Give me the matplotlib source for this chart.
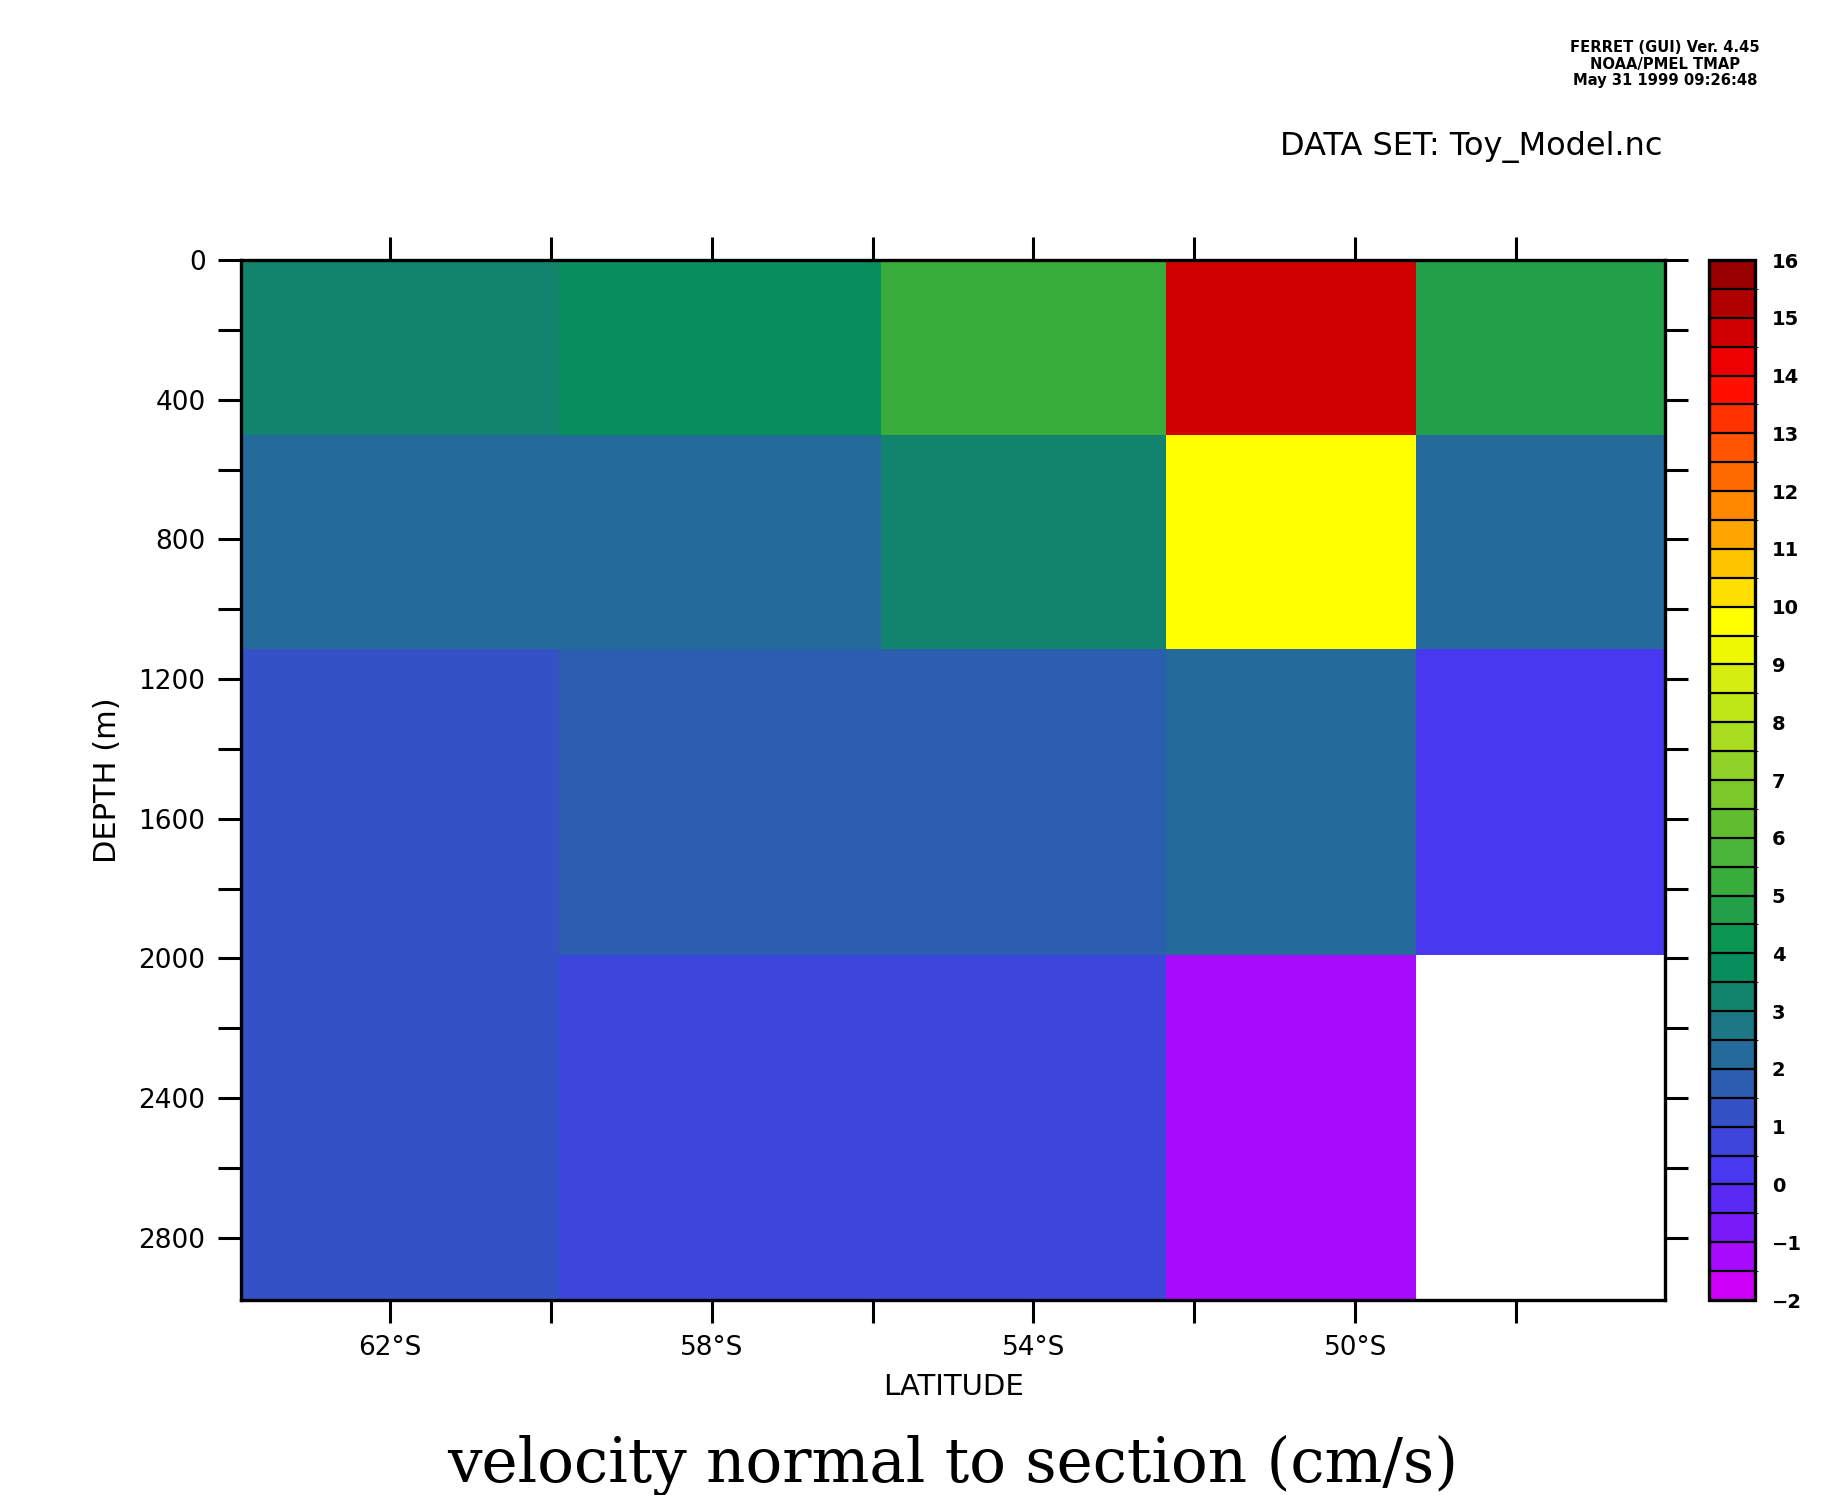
import numpy as np
import matplotlib
matplotlib.use("Agg")
import matplotlib.pyplot as plt
from matplotlib.colors import ListedColormap, BoundaryNorm
from matplotlib.ticker import FixedLocator, FuncFormatter

# cell edges of the section grid
lat_edges = [-63.85, -59.9, -55.9, -52.35, -49.25, -46.15]
depth_edges = [0, 500, 1115, 1990, 2978]

# velocity normal to section (cm/s), rows = depth layers, cols = latitude bins
velocity = np.array([
    [3.2, 3.8, 5.2, 14.7, 4.7],
    [2.2, 2.2, 3.2, 9.7, 2.2],
    [1.2, 1.7, 1.7, 2.2, 0.2],
    [1.2, 0.7, 0.7, -1.3, np.nan],
])

levels = np.arange(-2, 16.01, 0.5)
level_colors = [
    '#cc00f8', '#a80cff', '#7a1af8', '#5a2af5', '#4838f0', '#3e45da',
    '#3452c6', '#2b5eae', '#246a9a', '#1c7884', '#12846e', '#088e5c',
    '#0a9650', '#22a048', '#38ad3c', '#4bb53a', '#60bd30', '#7ac82a',
    '#90d228', '#a8dd20', '#c0e818', '#d5ed10', '#eef800', '#ffff00',
    '#ffe000', '#ffc400', '#ffa500', '#ff8800', '#ff6a00', '#ff5500',
    '#ff3300', '#ff1000', '#ee0000', '#d00000', '#b00000', '#990000',
]
cmap = ListedColormap(level_colors)
norm = BoundaryNorm(levels, cmap.N)

W, H = 1838, 1495
fig = plt.figure(figsize=(W / 100, H / 100), dpi=100, facecolor='white')
ax = fig.add_axes([241 / W, 1 - 1300 / H, (1665 - 241) / W, (1300 - 260) / H])

mesh = ax.pcolormesh(lat_edges, depth_edges, np.ma.masked_invalid(velocity),
                     cmap=cmap, norm=norm, shading='flat')
ax.set_xlim(lat_edges[0], lat_edges[-1])
ax.set_ylim(depth_edges[-1], 0)

ax.xaxis.set_major_locator(FixedLocator([-62, -58, -54, -50]))
ax.xaxis.set_minor_locator(FixedLocator([-60, -56, -52, -48]))
ax.xaxis.set_major_formatter(FuncFormatter(lambda v, p: f"{abs(v):.0f}°S"))
ax.yaxis.set_major_locator(FixedLocator(np.arange(0, 2801, 400)))
ax.yaxis.set_minor_locator(FixedLocator(np.arange(200, 2801, 400)))

ax.tick_params(which='both', direction='out', length=16.5, width=2.2,
               top=True, right=True, labeltop=False, labelright=False)
ax.tick_params(axis='x', which='major', pad=9, labelsize=19)
ax.tick_params(axis='y', which='major', pad=9, labelsize=19)
for sp in ax.spines.values():
    sp.set_linewidth(2.4)

fig.text(953 / W, 1 - 1387 / H, "LATITUDE", fontsize=21,
         ha='center', va='center')
fig.text(108 / W, 1 - 780 / H, "DEPTH (m)", fontsize=22,
         ha='center', va='center', rotation=90)

# colour key
cax = fig.add_axes([1709 / W, 1 - 1300 / H, 46 / W, (1300 - 260) / H])
cb = fig.colorbar(mesh, cax=cax, ticks=np.arange(-2, 17, 1), drawedges=True)
cb.outline.set_linewidth(2.4)
cb.dividers.set_linewidth(1.6)
cb.dividers.set_color('black')
cb.ax.tick_params(length=0, pad=12, labelsize=14)
for lab in cb.ax.get_yticklabels():
    lab.set_fontweight('bold')

fig.text(1662 / W, 1 - 147 / H, "DATA SET: Toy_Model.nc", fontsize=23,
         ha='right', va='center')
for txt, y in [("FERRET (GUI) Ver. 4.45", 47), ("NOAA/PMEL TMAP", 64),
               ("May 31 1999 09:26:48", 81)]:
    fig.text(1665 / W, 1 - y / H, txt, fontsize=10.6, fontweight='bold',
             ha='center', va='center')

fig.text(953 / W, 1 - 1465 / H, "velocity normal to section (cm/s)",
         family='DejaVu Serif', fontsize=44, ha='center', va='center')

fig.savefig("out.png", dpi=100)
plt.close(fig)
